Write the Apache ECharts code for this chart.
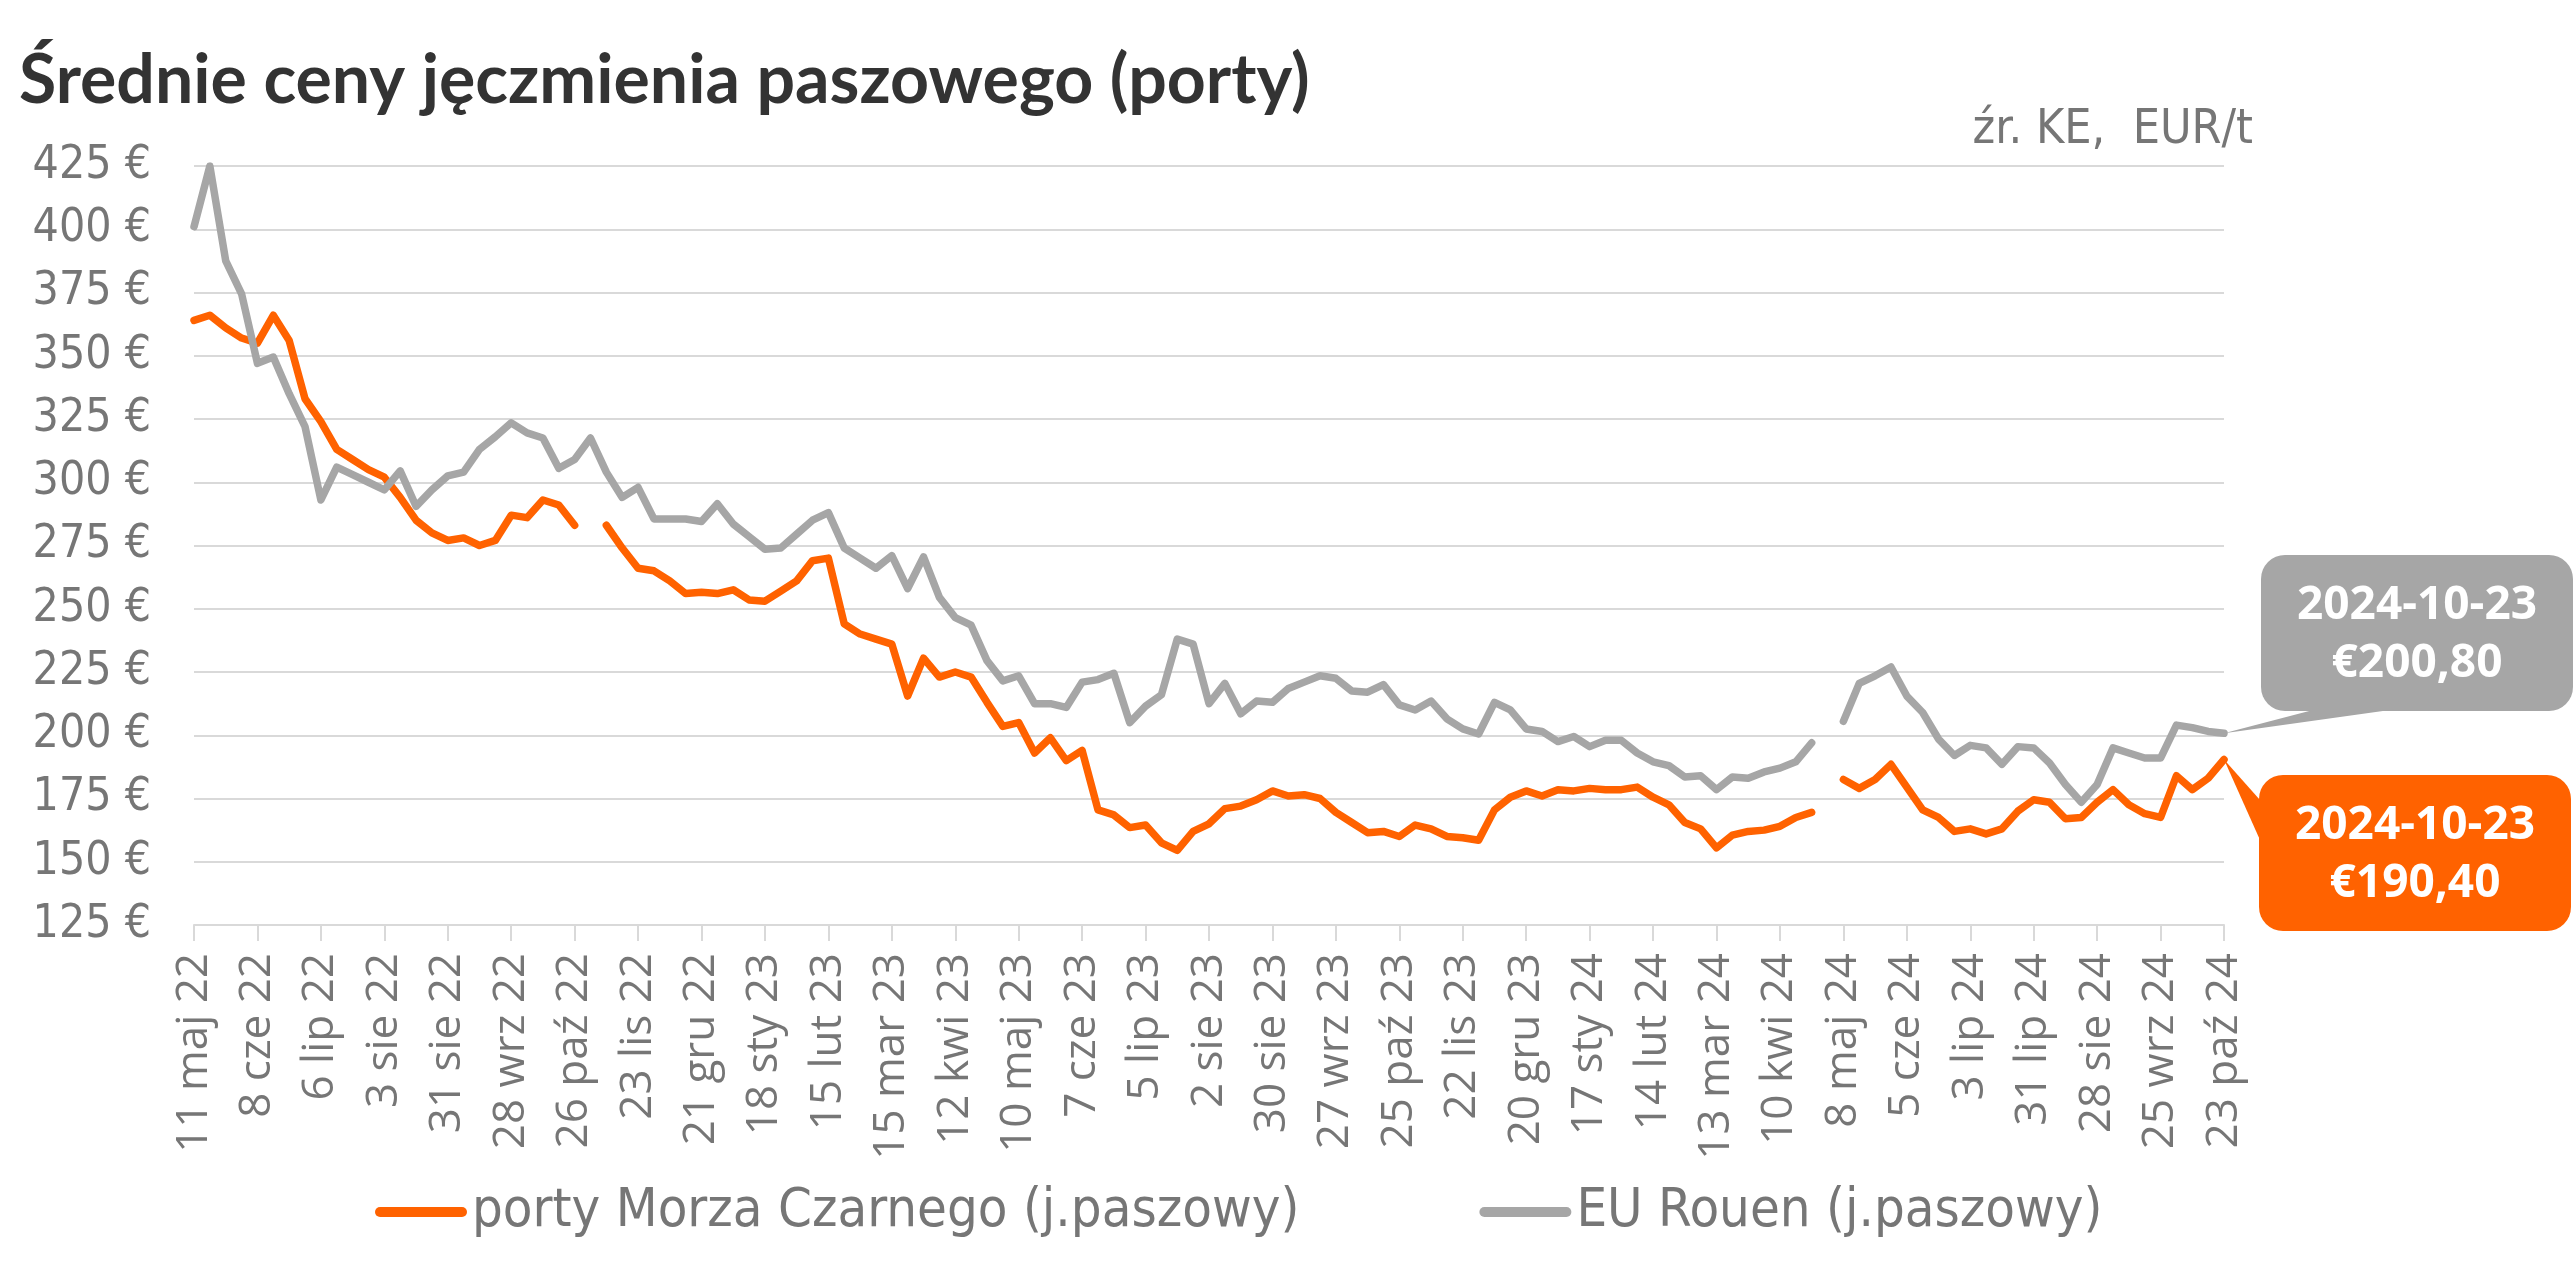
<!DOCTYPE html>
<html>
<head>
<meta charset="utf-8">
<script src="https://cdn.jsdelivr.net/npm/echarts@6/dist/echarts.min.js"></script>
<style>
  html, body { margin: 0; padding: 0; background: #fff; }
  #chart { width: 2575px; height: 1274px; }
</style>
</head>
<body>
<div id="chart"></div>
<script>
// ── Data ─────────────────────────────────────────────────────────────────────

// weekly quotes, first week 11 maj 22, last week 23 paź 24 (129 weeks)
const START_DATE = '2022-05-11';
const MONTHS_PL = ['sty', 'lut', 'mar', 'kwi', 'maj', 'cze', 'lip', 'sie', 'wrz', 'paź', 'lis', 'gru'];

const blackSea = [
  364, 366, 361, 357, 355, 366, 356, 333, 324, 313,
  309, 305, 302, 294, 285, 280, 277, 278, 275, 277,
  287, 286, 293, 291, 283, null, 283, 274, 266, 265,
  261, 256, 256.5, 256, 257.5, 253.5, 253, 257, 261, 269,
  270, 244, 240, 238, 236, 215.5, 230.5, 223, 225, 223,
  213, 203.5, 205, 193, 199, 190, 194, 170.5, 168.5, 163.5,
  164.5, 157.5, 154.5, 162, 165, 171, 172, 174.5, 178, 176,
  176.5, 175, 169.5, 165.5, 161.5, 162, 160, 164.5, 163, 160,
  159.5, 158.5, 170.5, 175.5, 178, 176, 178.5, 178, 179, 178.5,
  178.5, 179.5, 175.5, 172.5, 165.5, 163, 155.5, 160.5, 162, 162.5,
  164, 167.5, 169.5, null, 182.5, 179, 182.5, 188.5, 179.5, 170.5,
  167.5, 162, 163, 161, 163, 170, 174.5, 173.5, 167, 167.5,
  173.5, 178.5, 172.5, 169, 167.5, 184, 178.5, 183, 190.4
];

const rouen = [
  401, 425, 387.5, 374.5, 347, 349.5, 335, 322, 293, 306,
  303, 300, 297, 304.5, 290.5, 297, 302.5, 304, 313, 318,
  323.5, 319.5, 317.5, 305.5, 309, 317.5, 304, 294, 298, 285.5,
  285.5, 285.5, 284.5, 291.5, 283.5, 278.5, 273.5, 274, 279.5, 285,
  288, 274, 270, 266, 271, 258, 270.5, 254.5, 246.5, 243.5,
  229.5, 221.5, 223.5, 212.5, 212.5, 211, 221, 222, 224.5, 205,
  211.5, 216, 238, 236, 212.5, 220.5, 208.5, 213.5, 213, 218.5,
  221, 223.5, 222.5, 217.5, 217, 220, 212, 210, 213.5, 206.5,
  202.5, 200.5, 213, 210, 202.5, 201.5, 197.5, 199.5, 195.5, 198,
  198, 193, 189.5, 188, 183.5, 184, 178.5, 183.5, 183, 185.5,
  187, 189.5, 197, null, 205.5, 220.5, 223.5, 227, 215.5, 209,
  198.5, 192, 196, 195, 188.5, 195.5, 195, 189, 180.5, 173.5,
  180.5, 195, 193, 191, 191, 204, 203, 201.5, 200.8
];

const SERIES_NAMES = ['porty Morza Czarnego (j.paszowy)', 'EU Rouen (j.paszowy)'];
const LAST_LABELS = [['2024-10-23', '€190,40'], ['2024-10-23', '€200,80']];

const Y_MIN = 125, Y_MAX = 425, Y_STEP = 25;

// ── Helpers ──────────────────────────────────────────────────────────────────

function weekLabel(i) {
  const d = new Date(START_DATE + 'T00:00:00Z');
  d.setUTCDate(d.getUTCDate() + 7 * i);
  return d.getUTCDate() + ' ' + MONTHS_PL[d.getUTCMonth()] + ' ' + String(d.getUTCFullYear()).slice(2);
}

const categories = blackSea.map((_, i) => weekLabel(i));

const ORANGE = '#ff6200';
const GREY = '#a6a6a6';
const TXT = '#767676';
const GRID = '#d9d9d9';
const NARROW = "'Liberation Sans Narrow', 'DejaVu Sans Condensed', Roboto, sans-serif";
// thick rounded bar used as legend marker
const LEGEND_ICON = 'path://M5,0H87A5,5 0 0 1 87,10H5A5,5 0 0 1 5,0Z';

// ── Chart ────────────────────────────────────────────────────────────────────

const chart = echarts.init(document.getElementById('chart'), null, { renderer: 'canvas' });

chart.setOption({
  animation: false,
  backgroundColor: '#fff',
  title: {
    text: 'Średnie ceny jęczmienia paszowego (porty)',
    left: 14, top: 42,
    textStyle: { fontFamily: 'Lato', fontWeight: 'bold', fontSize: 68, color: '#333333' },
  },
  grid: { left: 194, right: 351, top: 166, bottom: 349, containLabel: false },
  legend: {
    left: 370, top: 1180,
    itemWidth: 92, itemHeight: 10, itemGap: 180,
    textStyle: { fontFamily: NARROW, fontSize: 54, color: TXT },
    data: [
      { name: SERIES_NAMES[0], icon: LEGEND_ICON, itemStyle: { color: ORANGE } },
      { name: SERIES_NAMES[1], icon: LEGEND_ICON, itemStyle: { color: GREY } },
    ],
  },
  xAxis: {
    type: 'category',
    data: categories,
    boundaryGap: false,
    axisLine: { lineStyle: { color: GRID, width: 2 } },
    axisTick: { show: true, interval: 3, length: 16, lineStyle: { color: GRID, width: 2 } },
    axisLabel: {
      interval: 3, rotate: 90, margin: 28,
      fontFamily: 'Open Sans', fontSize: 44, color: TXT,
    },
    splitLine: { show: false },
  },
  yAxis: {
    type: 'value',
    min: Y_MIN, max: Y_MAX, interval: Y_STEP,
    axisLine: { show: false },
    axisTick: { show: false },
    axisLabel: {
      margin: 43, fontFamily: NARROW, fontSize: 46, color: TXT,
      formatter: v => v + ' €',
    },
    splitLine: { lineStyle: { color: GRID, width: 2 } },
  },
  series: [
    {
      name: SERIES_NAMES[0], type: 'line', data: blackSea,
      showSymbol: false, symbol: 'none', connectNulls: false,
      lineStyle: { color: ORANGE, width: 7.5, cap: 'round', join: 'round' },
      itemStyle: { color: ORANGE },
      z: 2,
    },
    {
      name: SERIES_NAMES[1], type: 'line', data: rouen,
      showSymbol: false, symbol: 'none', connectNulls: false,
      lineStyle: { color: GREY, width: 7.5, cap: 'round', join: 'round' },
      itemStyle: { color: GREY },
      z: 3,
    },
  ],
});

// ── Callouts for the last point of each series ───────────────────────────────

function callout(pt, box, color, lines, wedge) {
  return [
    { type: 'polygon', shape: { points: [pt, wedge[0], wedge[1]] }, style: { fill: color }, z: 10 },
    {
      type: 'rect', shape: { x: box.x, y: box.y, width: box.w, height: box.h, r: 24 },
      style: { fill: color }, z: 11,
    },
    {
      type: 'text', x: box.x + box.w / 2, y: box.y + box.h / 2 + 2, z: 12,
      style: {
        text: lines.join('\n'), fill: '#fff', align: 'center', verticalAlign: 'middle',
        fontFamily: 'Open Sans', fontWeight: 'bold', fontSize: 46, lineHeight: 58,
      },
    },
  ];
}

const last = blackSea.length - 1;
const pOrange = chart.convertToPixel({ seriesIndex: 0 }, [last, blackSea[last]]);
const pGrey = chart.convertToPixel({ seriesIndex: 1 }, [last, rouen[last]]);

const greyBox = { x: 2261, y: 555, w: 312, h: 156 };
const orangeBox = { x: 2259, y: 775, w: 312, h: 156 };

chart.setOption({
  graphic: [
    ...callout(pGrey, greyBox, GREY, LAST_LABELS[1],
      [[2313, greyBox.y + greyBox.h - 1], [2390, greyBox.y + greyBox.h - 1]]),
    ...callout(pOrange, orangeBox, ORANGE, LAST_LABELS[0],
      [[orangeBox.x + 1, 800], [orangeBox.x + 1, 840]]),
    {
      type: 'text', x: 2253, y: 155, z: 5,
      style: {
        text: 'źr. KE,  EUR/t', fill: TXT, align: 'right', verticalAlign: 'bottom',
        fontFamily: NARROW, fontSize: 48,
      },
    },
  ],
});

window.addEventListener('resize', () => chart.resize());
</script>
</body>
</html>
